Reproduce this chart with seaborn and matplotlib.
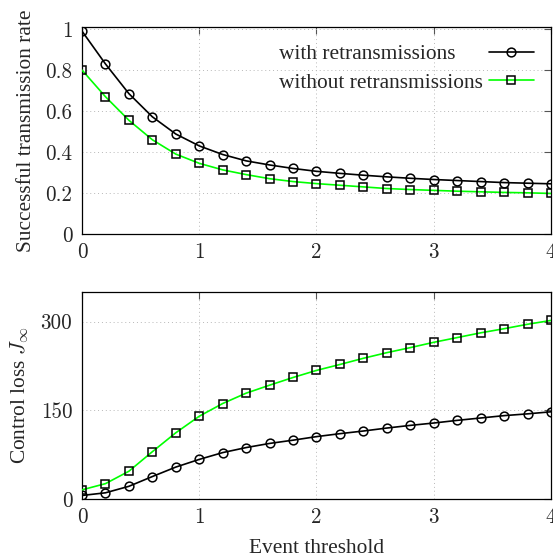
import numpy as np
import pandas as pd
import seaborn as sns
import matplotlib.pyplot as plt

# Event threshold values (shared by both panels)
thresholds = [0.0, 0.2, 0.4, 0.6, 0.8, 1.0, 1.2, 1.4, 1.6, 1.8, 2.0,
              2.2, 2.4, 2.6, 2.8, 3.0, 3.2, 3.4, 3.6, 3.8, 4.0]

# Successful transmission rate
rate_with = [0.99, 0.83, 0.685, 0.572, 0.488, 0.43, 0.388, 0.357, 0.337, 0.32, 0.306,
             0.296, 0.287, 0.279, 0.272, 0.266, 0.261, 0.256, 0.251, 0.248, 0.245]
rate_without = [0.80, 0.67, 0.555, 0.46, 0.39, 0.345, 0.313, 0.29, 0.27, 0.256, 0.246,
                0.238, 0.23, 0.222, 0.217, 0.213, 0.209, 0.206, 0.203, 0.201, 0.198]

# Control loss J_inf
loss_with = [6, 10.5, 21.5, 38, 54, 67, 78.5, 87, 94, 99.5, 105.5,
             110.5, 115, 120, 124.5, 128.5, 133, 137, 141, 144, 147.5]
loss_without = [15.5, 26, 47, 80, 112, 140, 161.5, 179, 192.5, 205.5, 217.5,
                227.5, 238, 247.5, 256, 265, 273, 281, 288, 295.5, 302]

labels = ["with retransmissions", "without retransmissions"]

sns.set_theme(style="white")
plt.rcParams["font.family"] = ["Liberation Serif", "DejaVu Serif"]
plt.rcParams["mathtext.fontset"] = "cm"

GREEN = "#00ff00"
TICK_FONT = "cmr10"
TEXT_SIZE = 15.4
DPI = 100


def draw_series(ax, y, label, color, marker):
    df = pd.DataFrame({"x": thresholds, "y": y})
    sns.lineplot(data=df, x="x", y="y", ax=ax, color=color, label=label,
                 marker=marker, markersize=6.3 if marker == "o" else 6,
                 markerfacecolor="none", markeredgecolor="black",
                 markeredgewidth=1.1, linewidth=1.2, zorder=3)


def style_axes(ax, ylim, yticks):
    ax.set_xlim(0, 4)
    ax.set_ylim(*ylim)
    ax.set_xticks([0, 1, 2, 3, 4])
    ax.set_yticks(yticks)
    ax.grid(True, linestyle=(0, (1, 3)), color="#b8b8b8", linewidth=0.7)
    ax.tick_params(direction="in", length=5, width=0.8, color="#555555",
                   top=True, right=True, labelsize=15.2)
    ax.tick_params(axis="y", pad=7)
    ax.tick_params(axis="x", pad=6)
    for lab in ax.get_xticklabels() + ax.get_yticklabels():
        lab.set_fontfamily(TICK_FONT)
    for sp in ax.spines.values():
        sp.set_color("black")
        sp.set_linewidth(0.9)


fig = plt.figure(figsize=(5.53, 5.6), dpi=DPI)
ax1 = fig.add_axes([0.1483, 0.5821, 0.848, 0.3696])
ax2 = fig.add_axes([0.1483, 0.1089, 0.848, 0.3696])

draw_series(ax1, rate_with, labels[0], "black", "o")
draw_series(ax1, rate_without, labels[1], GREEN, "s")
draw_series(ax2, loss_with, labels[0], "black", "o")
draw_series(ax2, loss_without, labels[1], GREEN, "s")

style_axes(ax1, (0, 1.01), [0, 0.2, 0.4, 0.6, 0.8, 1.0])
ax1.set_yticklabels(["0", "0.2", "0.4", "0.6", "0.8", "1"], fontfamily=TICK_FONT)
style_axes(ax2, (0, 350), [0, 150, 300])

ax1.set_xlabel("")
ax1.set_ylabel("Successful transmission rate", fontsize=TEXT_SIZE, labelpad=7)
ax2.set_xlabel("Event threshold", fontsize=TEXT_SIZE, labelpad=9)
ax2.set_ylabel(r"Control loss $J_\infty$", fontsize=TEXT_SIZE, labelpad=7)

text_pad = 0.3
leg = ax1.legend(loc="upper right", frameon=False, markerfirst=False, fontsize=TEXT_SIZE,
                 handlelength=2.1, handletextpad=text_pad, labelspacing=0.4,
                 borderaxespad=0.4, numpoints=1)
ax2.get_legend().remove()

# left-align the legend texts while keeping the line samples in one column
fig.canvas.draw()
widths = [t.get_window_extent().width for t in leg.get_texts()]
rows = leg._legend_handle_box.get_children()[0].get_children()
for row, w in zip(rows, widths):
    row.sep = text_pad * TEXT_SIZE + (max(widths) - w) * 72 / DPI

fig.savefig("out.png", dpi=DPI)
